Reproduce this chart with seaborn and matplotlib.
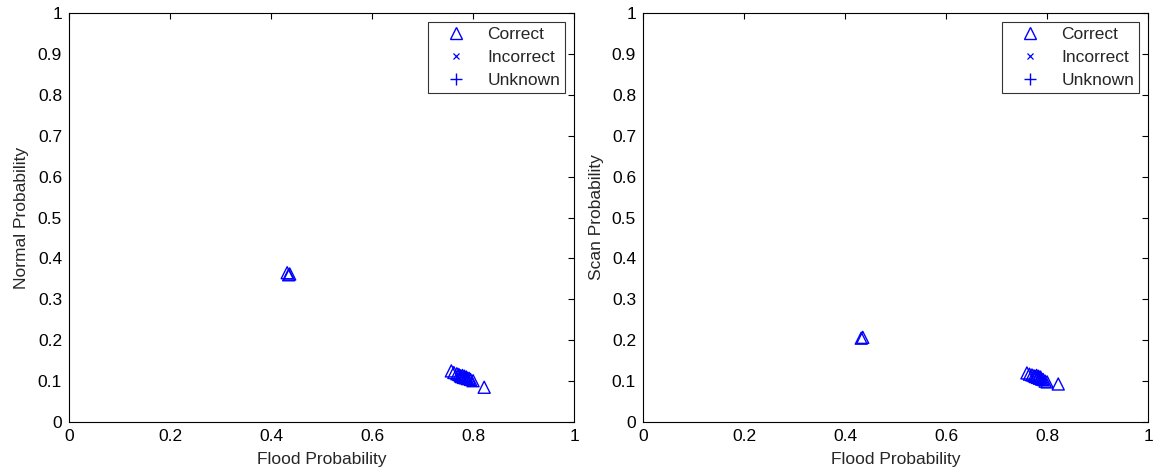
import matplotlib
matplotlib.use("Agg")
import matplotlib.pyplot as plt
from matplotlib.lines import Line2D
import seaborn as sns
import pandas as pd

# Left panel: Flood vs Normal probability (all "Correct")
left_flood = [0.432, 0.435, 0.437, 0.757, 0.762, 0.768, 0.772, 0.775, 0.777, 0.779,
              0.781, 0.783, 0.785, 0.787, 0.789, 0.792, 0.795, 0.800, 0.822]
left_normal = [0.365, 0.360, 0.362, 0.125, 0.121, 0.118, 0.116, 0.113, 0.111, 0.114,
               0.109, 0.112, 0.108, 0.110, 0.106, 0.107, 0.104, 0.101, 0.085]

# Right panel: Flood vs Scan probability (all "Correct")
right_flood = [0.432, 0.435, 0.760, 0.765, 0.770, 0.774, 0.777, 0.779, 0.781, 0.783,
               0.785, 0.787, 0.789, 0.792, 0.796, 0.800, 0.822]
right_scan = [0.205, 0.207, 0.120, 0.117, 0.115, 0.113, 0.111, 0.114, 0.109, 0.112,
              0.107, 0.110, 0.105, 0.104, 0.100, 0.098, 0.093]

legend_labels = ["Correct", "Incorrect", "Unknown"]
x_label = "Flood Probability"
y_labels = ["Normal Probability", "Scan Probability"]
ticks_x = [0, 0.2, 0.4, 0.6, 0.8, 1]
ticks_y = [0, 0.1, 0.2, 0.3, 0.4, 0.5, 0.6, 0.7, 0.8, 0.9, 1]

sns.set_style("white")
plt.rcParams["font.family"] = ["Liberation Sans", "DejaVu Sans"]
plt.rcParams["font.size"] = 12.5

fig = plt.figure(figsize=(11.53, 4.73), dpi=100)
ax1 = fig.add_axes([0.0598, 0.1078, 0.4381, 0.8647])
ax2 = fig.add_axes([0.5577, 0.1078, 0.4381, 0.8647])

dfs = [pd.DataFrame({"x": left_flood, "y": left_normal}),
       pd.DataFrame({"x": right_flood, "y": right_scan})]

blue = "#0000ff"
for ax, df, yl in zip([ax1, ax2], dfs, y_labels):
    sns.scatterplot(data=df, x="x", y="y", ax=ax, marker="^", s=75,
                    facecolors="none", edgecolor=blue, linewidth=1.0, legend=False)
    ax.set_xlim(0, 1)
    ax.set_ylim(0, 1)
    ax.set_xticks(ticks_x)
    ax.set_xticklabels([("%g" % t) for t in ticks_x])
    ax.set_yticks(ticks_y)
    ax.set_yticklabels([("%g" % t) for t in ticks_y])
    ax.set_xlabel(x_label, fontsize=12.5, labelpad=6)
    ax.set_ylabel(yl, fontsize=12.5, labelpad=6)
    ax.tick_params(direction="in", length=4, width=0.8, top=True, right=True,
                   labelsize=12.5, colors="black", pad=5)
    for sp in ax.spines.values():
        sp.set_visible(True)
        sp.set_color("black")
        sp.set_linewidth(0.8)
    handles = [
        Line2D([], [], marker="^", linestyle="none", markerfacecolor="none",
               markeredgecolor=blue, markeredgewidth=1.0, markersize=8),
        Line2D([], [], marker="x", linestyle="none", color=blue, markersize=5,
               markeredgewidth=0.9),
        Line2D([], [], marker="+", linestyle="none", color=blue, markersize=9,
               markeredgewidth=1.0),
    ]
    leg = ax.legend(handles, legend_labels, loc="upper right", fontsize=12.5,
                    frameon=True, fancybox=False, edgecolor="black",
                    borderaxespad=0.5, handletextpad=0.5, labelspacing=0.45,
                    borderpad=0.3, handlelength=2.6)
    leg.get_frame().set_linewidth(0.8)

fig.savefig("out.png", dpi=100)
